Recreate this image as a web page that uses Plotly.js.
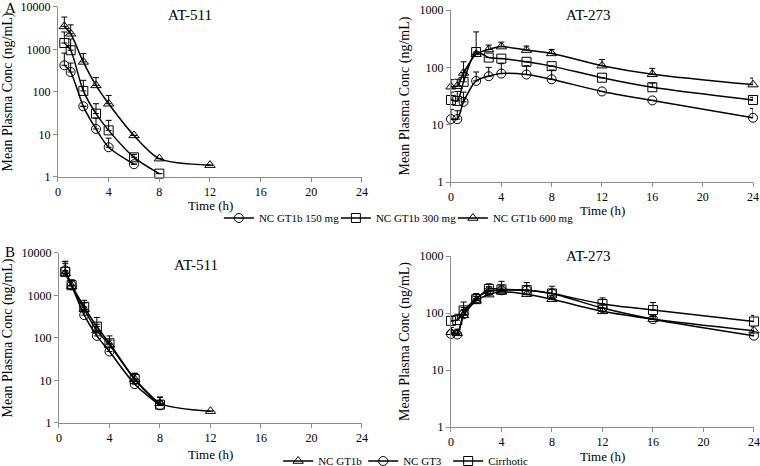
<!DOCTYPE html>
<html>
<head>
<meta charset="utf-8">
<script src="https://cdn.plot.ly/plotly-3.0.1.min.js"></script>
<style>
  html, body { margin: 0; padding: 0; background: #fff; }
  #grafico { width: 760px; height: 466px; }
</style>
</head>
<body>
<div id="grafico"></div>
<script>
// tiempos de muestreo (h)
const t511 = [0.5, 1, 2, 3, 4, 6, 8, 12];
const t273 = [0, 0.5, 1, 2, 3, 4, 6, 8, 12, 16, 24];

// Panel A - AT-511
const a511_150 = [425, 295, 46, 13.5, 5.0, 2.0];
const a511_150_err = [400, 185, 0, 11, 3.2, 0];
const a511_300 = [1420, 960, 106, 31, 12.5, 2.9, 1.2];
const a511_300_err = [1160, 800, 82, 22, 9, 0.5, 0];
const a511_600 = [3500, 2350, 510, 143, 53, 9.5, 2.7, 1.9];
const a511_600_err = [2300, 1450, 290, 75, 30, 0, 0, 0];

// Panel A - AT-273
const a273_150 = [12.5, 12.5, 25, 58, 70, 78, 75, 62, 38, 26.5, 13.2];
const a273_150_err = [6, 5, 12, 25, 30, 38, 32, 28, 0, 0, 6];
const a273_300 = [27, 26, 56, 185, 148, 142, 125, 105, 66, 45, 27];
const a273_300_err = [10, 12, 25, 230, 0, 0, 0, 0, 0, 8, 3];
const a273_600 = [46, 47, 80, 170, 205, 230, 200, 175, 107, 76, 50];
const a273_600_err = [15, 15, 45, 0, 40, 45, 35, 30, 30, 20, 15];

// Panel B - AT-511
const b511_gt1b = [3300, 1660, 470, 150, 69, 10.7, 2.9, 1.9];
const b511_gt1b_err = [2300, 600, 200, 60, 20, 4, 1.2, 0];
const b511_gt3 = [3900, 1730, 345, 112, 48, 8.2, 2.6];
const b511_gt3_err = [2500, 500, 100, 30, 12, 2, 0.8];
const b511_cirr = [3600, 1750, 540, 185, 75, 10.8, 2.7];
const b511_cirr_err = [2600, 600, 230, 120, 37, 4, 1.3];

// Panel B - AT-273
const b273_gt1b = [46, 44, 91, 165, 210, 235, 214, 175, 107, 78, 49];
const b273_gt1b_err = [10, 8, 25, 30, 40, 50, 30, 30, 15, 10, 8];
const b273_gt3 = [43, 42, 95, 180, 240, 250, 250, 220, 122, 78, 40];
const b273_gt3_err = [6, 8, 30, 40, 50, 60, 50, 40, 15, 10, 5];
const b273_cirr = [73, 75, 111, 175, 265, 260, 252, 220, 144, 113, 71];
const b273_cirr_err = [15, 20, 45, 40, 60, 100, 90, 75, 40, 40, 20];

const yTicks4 = [1, 10, 100, 1000, 10000];
const yTicks3 = [1, 10, 100, 1000];
const xTicks = [0, 4, 8, 12, 16, 20, 24];

const fuente = "'Liberation Serif', 'Times New Roman', serif";

function serie(x, y, err, name, symbol, ax, leg, show, lw) {
    const tr = {
        x: x.slice(0, y.length), y: y, name: name,
        xaxis: ax[0], yaxis: ax[1],
        type: 'scatter', mode: 'lines+markers',
        line: { color: '#000', width: 1.5, shape: 'spline', smoothing: 0.8 },
        marker: { symbol: symbol, size: 9, color: '#000', line: { width: 1 } },
        error_y: { type: 'data', symmetric: false, array: err, arrayminus: err.map(() => 0),
                   color: '#000', thickness: 1, width: 3 },
        legend: leg, showlegend: show, cliponaxis: false
    };
    if (lw) tr.legendwidth = lw;
    return tr;
}

const data = [
    serie(t511, a511_150, a511_150_err, 'NC GT1b 150 mg', 'circle-open', ['x', 'y'], 'legend', true, 72),
    serie(t511, a511_300, a511_300_err, 'NC GT1b 300 mg', 'square-open', ['x', 'y'], 'legend', true, 72),
    serie(t511, a511_600, a511_600_err, 'NC GT1b 600 mg', 'triangle-up-open', ['x', 'y'], 'legend', true),
    serie(t273, a273_150, a273_150_err, 'NC GT1b 150 mg', 'circle-open', ['x2', 'y2'], 'legend', false),
    serie(t273, a273_300, a273_300_err, 'NC GT1b 300 mg', 'square-open', ['x2', 'y2'], 'legend', false),
    serie(t273, a273_600, a273_600_err, 'NC GT1b 600 mg', 'triangle-up-open', ['x2', 'y2'], 'legend', false),
    serie(t511, b511_gt1b, b511_gt1b_err, 'NC GT1b', 'triangle-up-open', ['x3', 'y3'], 'legend2', true, 40),
    serie(t511, b511_gt3, b511_gt3_err, 'NC GT3', 'circle-open', ['x3', 'y3'], 'legend2', true, 40),
    serie(t511, b511_cirr, b511_cirr_err, 'Cirrhotic', 'square-open', ['x3', 'y3'], 'legend2', true),
    serie(t273, b273_gt1b, b273_gt1b_err, 'NC GT1b', 'triangle-up-open', ['x4', 'y4'], 'legend2', false),
    serie(t273, b273_gt3, b273_gt3_err, 'NC GT3', 'circle-open', ['x4', 'y4'], 'legend2', false),
    serie(t273, b273_cirr, b273_cirr_err, 'Cirrhotic', 'square-open', ['x4', 'y4'], 'legend2', false)
];

function ejeX(dom, anchor) {
    return {
        domain: dom, anchor: anchor, range: [0, 24], tickvals: xTicks,
        showgrid: false, zeroline: false, showline: true, linecolor: '#8c8c8c', linewidth: 1,
        ticks: 'outside', ticklen: 4, tickcolor: '#8c8c8c',
        tickfont: { family: fuente, size: 12, color: '#000' }
    };
}

function ejeY(dom, anchor, decades, ticks) {
    return {
        domain: dom, anchor: anchor, type: 'log', range: [0, decades],
        tickvals: ticks, ticktext: ticks.map(String),
        showgrid: false, zeroline: false, showline: true, linecolor: '#8c8c8c', linewidth: 1,
        ticks: 'outside', ticklen: 4, tickcolor: '#8c8c8c',
        tickfont: { family: fuente, size: 12, color: '#000' },
        title: { text: 'Mean Plasma Conc (ng/mL)', font: { family: fuente, size: 14, color: '#000' }, standoff: 6 }
    };
}

const legendaBase = {
    orientation: 'h', xanchor: 'left', yanchor: 'middle',
    font: { family: fuente, size: 11, color: '#000' },
    bgcolor: 'rgba(0,0,0,0)', itemwidth: 30, tracegroupgap: 0
};

const layout = {
    width: 760, height: 466,
    margin: { l: 0, r: 0, t: 0, b: 0, autoexpand: false },
    paper_bgcolor: '#fff', plot_bgcolor: '#fff',
    font: { family: fuente, color: '#000' },
    showlegend: true,
    xaxis: ejeX([0.0763, 0.4763], 'y'),
    yaxis: ejeY([0.6202, 0.985], 'x', 4, yTicks4),
    xaxis2: ejeX([0.5934, 0.9908], 'y2'),
    yaxis2: ejeY([0.6094, 0.9785], 'x2', 3, yTicks3),
    xaxis3: ejeX([0.0776, 0.4763], 'y3'),
    yaxis3: ejeY([0.0923, 0.4571], 'x3', 4, yTicks4),
    xaxis4: ejeX([0.5934, 0.9921], 'y4'),
    yaxis4: ejeY([0.0837, 0.4506], 'x4', 3, yTicks3),
    legend: Object.assign({}, legendaBase, { x: 0.288, y: 1 - 218 / 466 }),
    legend2: Object.assign({}, legendaBase, { x: 0.366, y: 1 - 461 / 466 }),
    annotations: [
        { text: 'AT-511', x: 190, y: 15 },
        { text: 'AT-273', x: 588, y: 15 },
        { text: 'AT-511', x: 196, y: 265 },
        { text: 'AT-273', x: 588, y: 256 },
        { text: 'Time (h)', x: 210, y: 205, size: 13 },
        { text: 'Time (h)', x: 602, y: 210, size: 13 },
        { text: 'Time (h)', x: 210, y: 454, size: 13 },
        { text: 'Time (h)', x: 602, y: 456, size: 13 },
        { text: 'A', x: 3, y: 8, xanchor: 'left' },
        { text: 'B', x: 3, y: 252, xanchor: 'left' }
    ].map(a => ({
        text: a.text, x: a.x / 760, y: 1 - a.y / 466, xref: 'paper', yref: 'paper',
        xanchor: a.xanchor || 'center', yanchor: 'middle', showarrow: false,
        font: { family: fuente, size: a.size || 15, color: '#000' }
    }))
};

Plotly.newPlot('grafico', data, layout, { displayModeBar: false, staticPlot: true });
</script>
</body>
</html>
